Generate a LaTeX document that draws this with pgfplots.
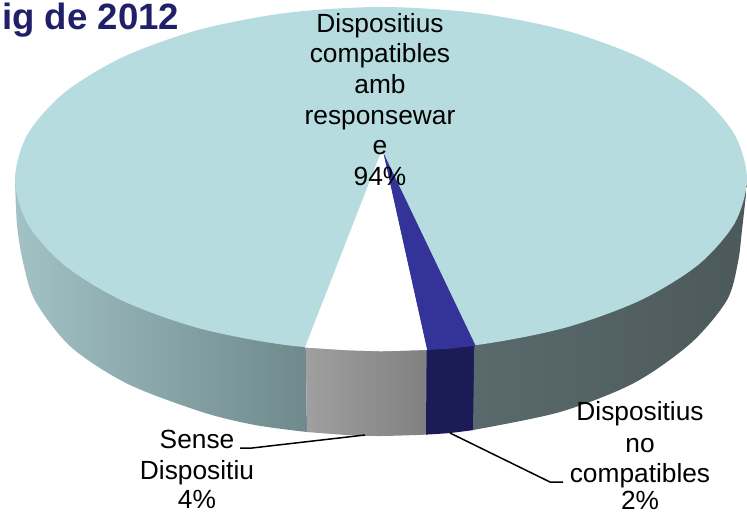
\documentclass[border=0pt]{standalone}
\usepackage{pgfplots}
\pgfplotsset{compat=1.18}
\usepackage{fontspec}
\setmainfont{Liberation Sans}
\definecolor{topc}{HTML}{B7DCDF}
\definecolor{sideLa}{HTML}{A2C2C6}
\definecolor{sideLb}{HTML}{6F898C}
\definecolor{grayA}{HTML}{A0A0A0}
\definecolor{grayB}{HTML}{808080}
\definecolor{navyS}{HTML}{1B1B58}
\definecolor{blueT}{HTML}{333399}
\definecolor{sideRa}{HTML}{5A6A6C}
\definecolor{sideRb}{HTML}{4C595B}
\definecolor{titlec}{HTML}{1F2068}
\begin{document}
\begin{tikzpicture}
\begin{axis}[
  width=747pt,height=514pt,scale only axis,
  xmin=0,xmax=747,ymin=0,ymax=514,y dir=reverse,
  hide axis,clip=false,
  every axis plot/.append style={no markers}
]
% side, left part
\addplot[draw=none,left color=sideLa,right color=sideLb,smooth] coordinates {
 (15,180)(17,225)(23,262)(35.2,301)(71,347)(127.9,384)(202,412)(255,425)(307,432)
} -- (axis cs:305,300) -- (axis cs:15,180) -- cycle;
% side, grey
\addplot[draw=none,left color=grayA,right color=grayB,smooth] coordinates {
 (307,432)(347,435)(381,436)(427,434.6)
} -- (axis cs:427,300) -- (axis cs:305,300) -- cycle;
% side, navy
\addplot[draw=none,fill=navyS,smooth] coordinates {
 (426,434.6)(450,433)(474,430)
} -- (axis cs:476,300) -- (axis cs:427,300) -- cycle;
% side, right part
\addplot[draw=none,left color=sideRa,right color=sideRb,smooth] coordinates {
 (473,430)(560,412)(634,383)(691,343)(727,300)(738,262)(742,230)(747,185)
} -- (axis cs:475,300) -- cycle;
% top face
\addplot[draw=none,fill=topc,smooth cycle] coordinates {
 (747,179)(734.5,134.5)(698,93)(639.8,57.4)(564,30)(475.7,12.9)(381,7)
 (286.3,12.9)(198,30)(122.2,57.4)(64,93)(27.5,134.5)(15,179)
 (27.5,223.5)(64,265)(122.2,300.6)(198,328)(286.3,345.1)(381,351)
 (475.7,345.1)(564,328)(639.8,300.6)(698,265)(734.5,223.5)
};
% wedges
\addplot[draw=none,fill=blueT] coordinates {(383,152)(427,350)(452,348.5)(475.5,345.5)} -- cycle;
\addplot[draw=none,fill=white] coordinates {(380,155)(383,152)(427,350)(381,351.3)(347,350.2)(305,347.5)} -- cycle;
% leaders
\addplot[black,line width=1.5pt] coordinates {(240,448)(252,448)(365,435)};
\addplot[black,line width=1.5pt] coordinates {(450,433)(550,482)(563,482)};
% text
\def\lab#1#2#3{\node[anchor=base,inner sep=0pt,font=\fontsize{26.3pt}{30pt}\selectfont] at (axis cs:#1,#2) {#3};}
\lab{380}{32}{Dispositius}
\lab{380}{62}{compatibles}
\lab{380}{93}{amb}
\lab{380}{124}{responsewar}
\lab{380}{154}{e}
\lab{380}{185}{94\%}
\lab{197}{448}{Sense}
\lab{197}{479}{Dispositiu}
\lab{197}{508.5}{4\%}
\lab{640}{420}{Dispositius}
\lab{640}{452}{no}
\lab{640}{482}{compatibles}
\lab{640}{509}{2\%}
\node[anchor=base west,inner sep=0pt,text=titlec,font=\fontsize{36.6pt}{40pt}\selectfont\bfseries] at (axis cs:2,29) {ig de 2012};
\end{axis}
\pgfresetboundingbox
\path[use as bounding box] (0,0) rectangle (747pt,514pt);
\end{tikzpicture}
\end{document}
